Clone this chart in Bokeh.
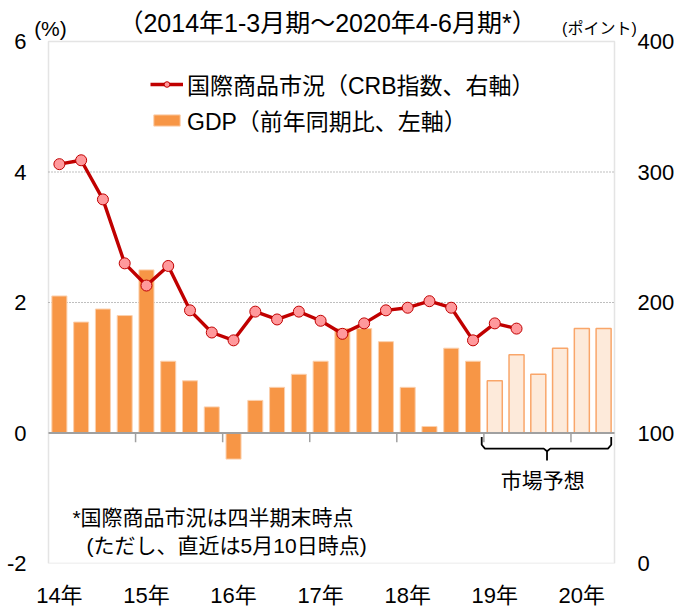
from bokeh.plotting import figure
from bokeh.models import (Range1d, LinearAxis, FixedTicker, Label, Legend,
                          LegendItem, BoxAnnotation)
from bokeh.embed import file_html
from bokeh.resources import INLINE

# ---- data ----
year_labels = ["14年", "15年", "16年", "17年", "18年", "19年", "20年"]
gdp_actual = [2.1, 1.7, 1.9, 1.8, 2.5, 1.1, 0.8, 0.4, -0.4, 0.5, 0.7, 0.9, 1.1,
              1.6, 1.6, 1.4, 0.7, 0.1, 1.3, 1.1]
gdp_forecast = [0.8, 1.2, 0.9, 1.3, 1.6, 1.6]
crb_index = [306, 309, 279, 230, 213, 228, 194, 177, 171, 193, 187, 193, 186,
             176, 184, 194, 196, 201, 196, 171, 184, 180]
left_ticks = [-2, 0, 2, 4, 6]
right_ticks = [0, 100, 200, 300, 400]
grid_ticks = [2, 4]

FONT = "Liberation Sans, Noto Sans CJK JP"
n_act = len(gdp_actual)
n_all = n_act + len(gdp_forecast)

x_act = [i + 0.5 for i in range(n_act)]
x_fc = [n_act + i + 0.5 for i in range(len(gdp_forecast))]
x_crb = [i + 0.5 for i in range(len(crb_index))]

# plot box: 566 x 522 px; the frame is a little larger so header texts fit in it
BOX_W, BOX_H = 566, 522
PAD_L, PAD_R, PAD_T = 20, 22, 41
Y0, Y1 = -2, 6
ppu_y = BOX_H / (Y1 - Y0)
ppu_x = BOX_W / n_all
y_top = Y1 + PAD_T / ppu_y
r_top = 400 * (y_top - Y0) / (Y1 - Y0)
x_lo = -PAD_L / ppu_x
x_hi = n_all + PAD_R / ppu_x

p = figure(frame_width=BOX_W + PAD_L + PAD_R, frame_height=BOX_H + PAD_T,
           min_border_left=48 - PAD_L, min_border_right=64 - PAD_R,
           min_border_top=0, min_border_bottom=45, output_backend="svg",
           toolbar_location=None, title=None,
           x_range=Range1d(x_lo, x_hi), y_range=Range1d(Y0, y_top))
p.extra_y_ranges = {"crb": Range1d(0, r_top)}
p.background_fill_color = "white"
p.border_fill_color = "white"
p.outline_line_color = None
p.xgrid.visible = False
p.ygrid.visible = False

# grid lines (dotted) inside the box
p.segment(x0=[0] * len(grid_ticks), y0=grid_ticks, x1=[n_all] * len(grid_ticks),
          y1=grid_ticks, line_color="#7F7F7F", line_dash="1 2", line_width=1)

p.add_layout(BoxAnnotation(left=0, right=n_all, bottom=Y0, top=Y1, fill_color=None,
                           fill_alpha=0, line_color="#A6A6A6", line_width=1.5))

# axes
def style_axis(ax, standoff):
    ax.axis_line_color = None
    ax.major_tick_line_color = None
    ax.minor_tick_line_color = None
    ax.major_tick_out = 0
    ax.major_tick_in = 0
    ax.major_label_standoff = standoff
    ax.major_label_text_font = FONT
    ax.major_label_text_font_size = "22px"
    ax.major_label_text_color = "black"

ya = p.yaxis[0]
ya.ticker = FixedTicker(ticks=left_ticks)
ya.major_label_overrides = {t: str(t) for t in left_ticks}
style_axis(ya, 2)

ra = LinearAxis(y_range_name="crb", ticker=FixedTicker(ticks=right_ticks))
style_axis(ra, 1)
p.add_layout(ra, "right")

xticks = [4 * i + 0.5 for i in range(len(year_labels))]
xa = p.xaxis[0]
xa.ticker = FixedTicker(ticks=xticks)
xa.major_label_overrides = {t: l for t, l in zip(xticks, year_labels)}
style_axis(xa, 19)

# bars
bars_act = p.vbar(x=x_act, top=gdp_actual, bottom=0, width=0.69,
                  fill_color="#F79646", line_color="#FBD0AE", line_width=1)
p.vbar(x=x_fc, top=gdp_forecast, bottom=0, width=0.69,
       fill_color="#FDEADA", line_color="#F9A66A", line_width=1.5)

# zero line and year ticks
p.segment(x0=[0], y0=[0], x1=[n_all], y1=[0], line_color="#A0A0A0", line_width=2)
bounds = [4 * i for i in range(1, len(year_labels))]
p.segment(x0=bounds, y0=[0] * len(bounds), x1=bounds, y1=[-0.14] * len(bounds),
          line_color="#A0A0A0", line_width=1.5)

# CRB line
crb_line = p.line(x=x_crb, y=crb_index, y_range_name="crb", line_color="#C00000",
                  line_width=3.4)
crb_pts = p.scatter(x=x_crb, y=crb_index, y_range_name="crb", size=11,
                    fill_color="#FF999C", line_color="#C00000", line_width=1)

# forecast brace
fs, fe = n_act, n_all
mid = (fs + fe) / 2 - 0.1
bx = [fs - 0.1, fs - 0.1, fs + 0.05, mid - 0.15, mid, mid, mid, mid + 0.15,
      fe - 0.3, fe - 0.15, fe - 0.15]
by = [-0.06, -0.18, -0.24, -0.24, -0.28, -0.42, -0.28, -0.24, -0.24, -0.18, -0.06]
p.line(x=bx, y=by, line_color="black", line_width=1.8)

# texts
def lab(x, y, t, size="20px", align="left"):
    p.add_layout(Label(x=x, y=y, text=t, text_font=FONT, text_font_size=size,
                       text_align=align, text_baseline="middle", text_color="black"))

lab(12.82, 6.29, "（2014年1-3月期～2020年4-6月期*）", "25px", "center")
lab(0.09, 6.2, "(%)", "21px", "center")
lab(27.02, 6.2, "(ポイント)", "16px", "right")
lab(22.7, -0.73, "市場予想", "21px", "center")
lab(1.1, -1.295, "*国際商品市況は四半期末時点", "21px")
lab(1.75, -1.72, "(ただし、直近は5月10日時点)", "21px")

legend = Legend(items=[
    LegendItem(label="国際商品市況（CRB指数、右軸）", renderers=[crb_line, crb_pts]),
    LegendItem(label="GDP（前年同期比、左軸）", renderers=[bars_act]),
], location=(102 + PAD_L, 426))
legend.label_text_font = FONT
legend.label_text_font_size = "23px"
legend.label_text_color = "black"
legend.glyph_width = 33
legend.glyph_height = 14
legend.label_height = 20
legend.label_standoff = 4
legend.spacing = 2
legend.padding = 0
legend.margin = 0
legend.border_line_color = None
legend.background_fill_alpha = 0
p.add_layout(legend, "center")

open("out.html", "w").write(file_html(p, INLINE))
